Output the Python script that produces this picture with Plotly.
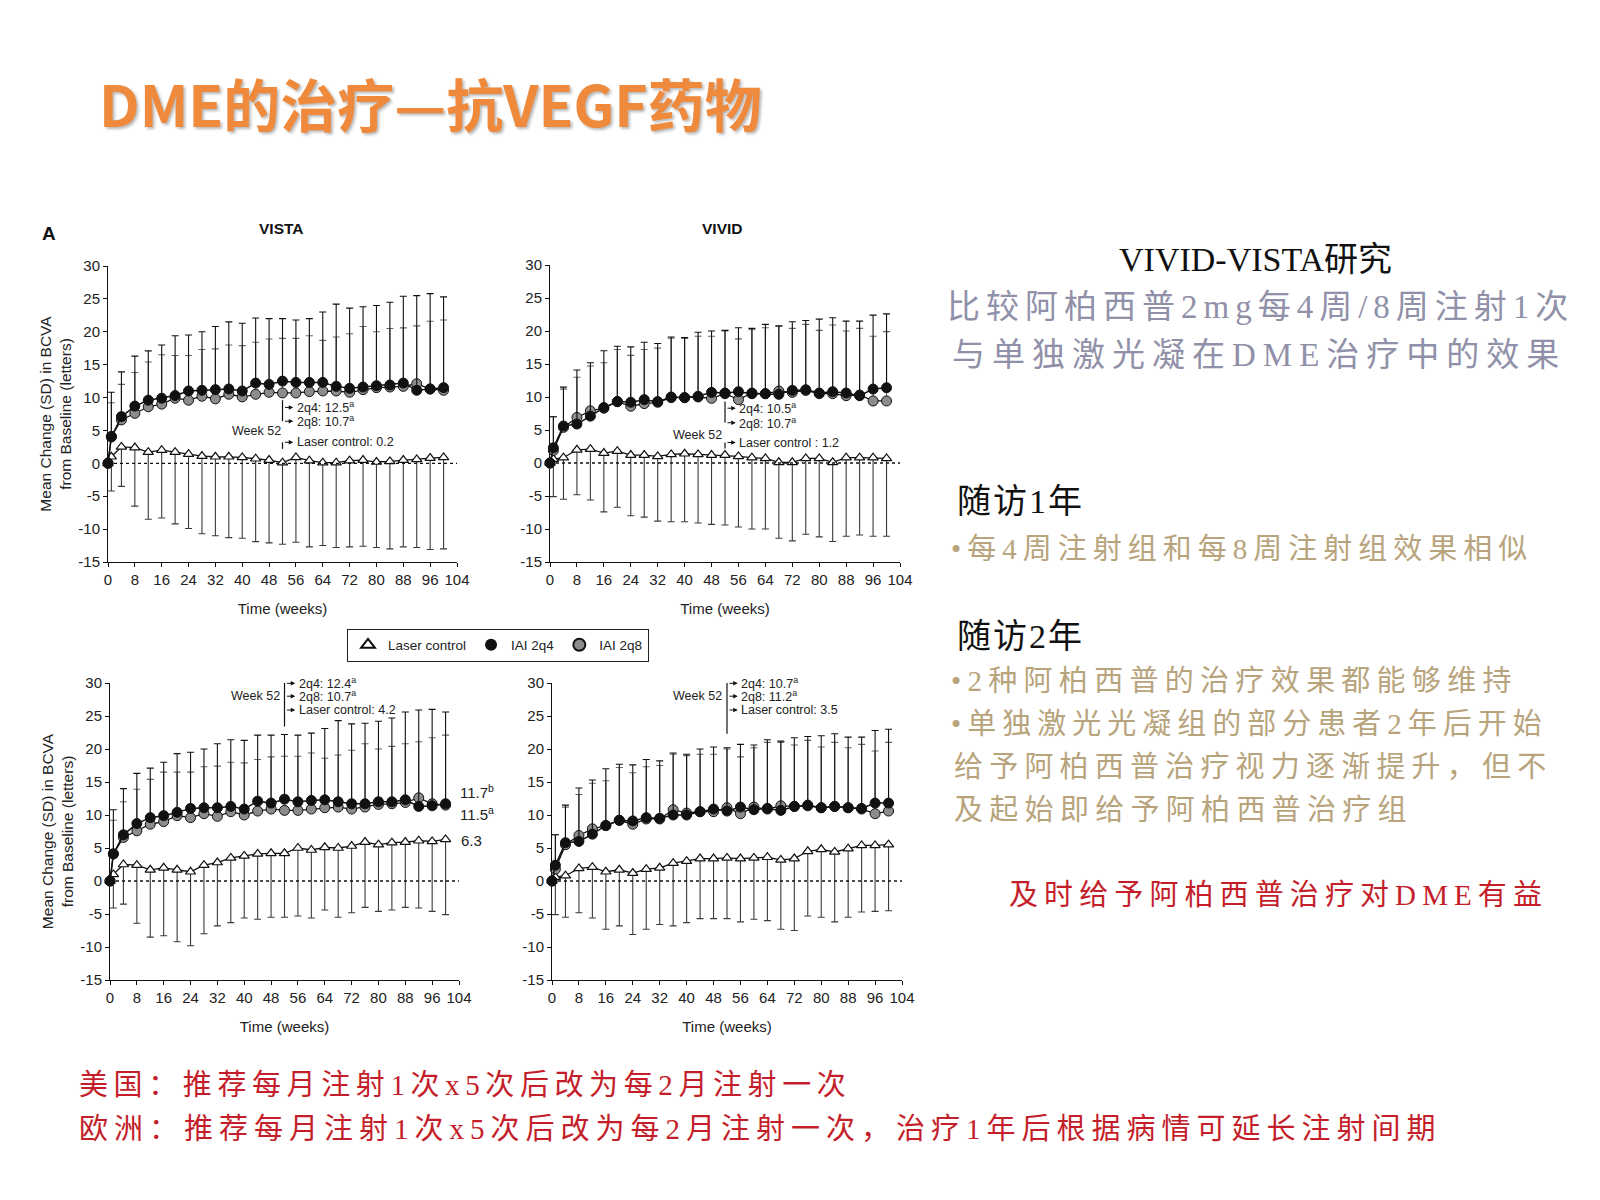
import plotly.graph_objects as go

# ---------------- data ----------------
weeks = [0, 1, 4, 8, 12, 16, 20, 24, 28, 32, 36, 40, 44, 48, 52, 56, 60, 64, 68, 72, 76, 80, 84, 88, 92, 96, 100]
x_ticks = [0, 8, 16, 24, 32, 40, 48, 56, 64, 72, 80, 88, 96, 104]
y_ticks = [-15, -10, -5, 0, 5, 10, 15, 20, 25, 30]

# VISTA, year 1 (top-left)
vista1_2q4 = [0, 4.0, 7.1, 8.7, 9.6, 9.9, 10.3, 11.0, 11.1, 11.2, 11.3, 11.0, 12.2, 12.0, 12.5, 12.3, 12.3, 12.3, 11.7, 11.4, 11.6, 11.8, 11.9, 12.2, 11.1, 11.3, 11.5]
vista1_2q8 = [0, 4.1, 6.6, 7.6, 8.6, 9.0, 9.9, 9.6, 10.2, 9.8, 10.5, 10.1, 10.5, 10.8, 10.7, 10.7, 10.9, 11.0, 11.0, 10.8, 11.2, 11.5, 11.6, 11.7, 12.1, 11.3, 11.1]
vista1_laser = [0, 1.0, 2.5, 2.4, 1.7, 2.0, 1.7, 1.4, 1.1, 1.0, 1.0, 0.9, 0.7, 0.5, 0.1, 0.9, 0.4, 0.1, 0.1, 0.4, 0.5, 0.2, 0.3, 0.5, 0.6, 0.8, 0.9]
vista1_2q4_top = [0, 10.8, 13.9, 16.3, 17.1, 18.0, 19.4, 19.5, 20.0, 20.8, 21.5, 21.3, 22.1, 22.0, 22.0, 21.8, 22.0, 23.0, 24.2, 23.6, 23.8, 24.0, 24.5, 25.4, 25.5, 25.8, 25.3]
vista1_2q8_top = [0, 9.2, 12.0, 13.8, 15.4, 16.5, 16.4, 16.4, 17.3, 17.4, 18.0, 17.9, 18.4, 18.9, 19.0, 19.0, 19.4, 18.7, 19.2, 19.7, 20.8, 20.0, 20.5, 20.6, 20.9, 21.6, 21.8]
vista1_laser_bottom = [0, -4.2, -3.5, -6.5, -8.5, -8.3, -9.2, -9.9, -10.7, -11.0, -11.3, -11.4, -11.9, -12.1, -12.3, -12.0, -12.7, -12.5, -12.8, -12.7, -12.6, -12.8, -13.0, -12.7, -12.8, -13.1, -13.0]

# VIVID, year 1 (top-right)
vivid1_2q4 = [0, 2.3, 5.6, 5.9, 7.1, 8.4, 9.3, 9.2, 9.6, 9.3, 10.0, 9.9, 10.1, 10.7, 10.6, 10.8, 10.5, 10.5, 10.4, 11.0, 11.1, 10.6, 10.8, 10.6, 10.2, 11.2, 11.4]
vivid1_2q8 = [0, 1.9, 5.4, 6.9, 7.9, 8.3, 9.3, 8.6, 9.0, 9.2, 9.9, 9.9, 10.0, 9.8, 10.5, 9.6, 10.6, 10.5, 10.9, 10.7, 11.0, 10.5, 10.5, 10.2, 10.3, 9.4, 9.4]
vivid1_laser = [0, 0.6, 0.8, 2.0, 2.1, 1.5, 1.8, 1.2, 1.2, 1.0, 1.3, 1.4, 1.3, 1.2, 1.2, 1.0, 0.8, 0.7, 0.1, 0.1, 0.7, 0.7, 0.1, 0.8, 0.8, 0.8, 0.7]
vivid1_2q4_top = [0, 7.0, 11.5, 14.1, 15.2, 17.0, 17.7, 17.6, 18.3, 18.1, 19.1, 19.0, 19.8, 20.0, 20.1, 20.5, 20.4, 21.0, 20.8, 21.4, 21.6, 21.8, 22.0, 21.5, 21.5, 22.4, 22.6]
vivid1_2q8_top = [0, 7.0, 11.2, 13.0, 14.7, 15.2, 17.2, 16.3, 17.2, 17.4, 18.9, 18.9, 19.2, 19.2, 20.0, 18.8, 20.2, 20.5, 20.7, 20.4, 21.0, 20.1, 20.9, 20.0, 20.4, 19.2, 19.9]
vivid1_laser_bottom = [0, -5.1, -5.5, -4.8, -5.6, -7.4, -6.7, -8.0, -8.2, -8.8, -8.9, -8.9, -9.1, -9.3, -9.4, -9.7, -10.0, -10.0, -11.4, -11.8, -10.8, -11.2, -11.9, -11.1, -10.9, -11.1, -11.1]

# VISTA, year 2 (bottom-left)
vista2_2q4 = [0, 4.1, 7.0, 8.7, 9.6, 9.9, 10.4, 11.0, 11.1, 11.1, 11.3, 10.9, 12.1, 11.8, 12.4, 12.0, 12.2, 12.3, 12.0, 11.7, 11.7, 12.0, 12.0, 12.3, 11.3, 11.4, 11.7]
vista2_2q8 = [0, 4.1, 6.6, 7.6, 8.6, 9.0, 9.9, 9.6, 10.2, 9.8, 10.5, 10.0, 10.6, 10.9, 10.7, 10.7, 10.9, 11.1, 11.2, 10.9, 11.2, 11.6, 11.7, 11.9, 12.6, 11.7, 11.5]
vista2_laser = [0, 1.0, 2.5, 2.4, 1.7, 2.0, 1.7, 1.4, 2.4, 2.8, 3.5, 3.8, 4.1, 4.2, 4.2, 5.0, 4.7, 5.1, 5.0, 5.3, 5.9, 5.5, 5.8, 5.9, 6.1, 6.0, 6.3]
vista2_2q4_top = [0, 10.8, 14.0, 16.3, 17.1, 18.0, 19.3, 19.5, 20.0, 20.8, 21.4, 21.3, 22.1, 22.1, 22.2, 22.1, 22.4, 23.1, 24.3, 23.8, 23.9, 24.2, 24.7, 25.6, 25.9, 26.0, 25.6]
vista2_2q8_top = [0, 9.2, 12.0, 13.9, 15.4, 16.5, 16.5, 16.5, 17.3, 17.4, 18.0, 17.9, 18.4, 18.8, 18.9, 18.9, 19.4, 18.6, 19.1, 19.8, 20.8, 20.0, 20.4, 20.8, 21.1, 21.7, 22.1]
vista2_laser_bottom = [0, -4.1, -3.5, -6.4, -8.5, -8.3, -9.2, -9.8, -8.0, -6.8, -6.3, -5.6, -5.8, -5.5, -5.5, -5.3, -5.6, -4.4, -5.5, -4.8, -4.0, -4.6, -4.4, -4.0, -4.1, -4.6, -5.1]

# VIVID, year 2 (bottom-right)
vivid2_2q4 = [0, 2.4, 5.8, 6.0, 7.1, 8.4, 9.2, 9.1, 9.6, 9.5, 10.0, 10.0, 10.5, 10.9, 10.6, 11.2, 10.8, 11.0, 10.7, 11.3, 11.4, 11.1, 11.3, 11.1, 11.0, 11.8, 11.8]
vivid2_2q8 = [0, 1.8, 5.5, 6.9, 7.9, 8.4, 9.2, 8.6, 9.4, 9.4, 10.8, 10.3, 10.5, 10.5, 11.1, 10.2, 11.2, 10.9, 11.4, 11.3, 11.5, 11.1, 11.3, 11.1, 10.9, 10.2, 10.6]
vivid2_laser = [0, 0.6, 0.8, 1.9, 2.1, 1.4, 1.7, 1.2, 1.8, 2.0, 2.7, 3.0, 3.4, 3.4, 3.5, 3.4, 3.5, 3.6, 3.2, 3.4, 4.5, 4.8, 4.4, 4.9, 5.4, 5.4, 5.5]
vivid2_2q4_top = [0, 7.0, 11.5, 14.1, 15.3, 17.0, 17.7, 17.6, 18.4, 18.2, 19.4, 19.2, 20.0, 20.3, 20.2, 20.7, 20.6, 21.4, 21.2, 21.7, 21.9, 22.0, 22.3, 21.8, 21.8, 22.8, 23.0]
vivid2_2q8_top = [0, 7.0, 11.2, 13.1, 14.8, 15.2, 17.2, 16.4, 17.3, 17.5, 19.2, 19.0, 19.2, 19.2, 20.0, 18.8, 20.2, 21.0, 21.0, 20.6, 21.3, 20.3, 21.0, 20.2, 20.7, 19.7, 21.0]
vivid2_laser_bottom = [0, -5.1, -5.5, -4.8, -5.6, -7.3, -6.8, -8.1, -7.3, -6.6, -6.8, -6.3, -5.7, -5.7, -5.7, -6.2, -5.8, -6.0, -7.3, -7.5, -5.3, -5.5, -6.2, -5.5, -4.7, -4.6, -4.5]

panels = [
    dict(ax="", q4=vista1_2q4, q8=vista1_2q8, laser=vista1_laser,
         q4_top=vista1_2q4_top, q8_top=vista1_2q8_top, laser_bot=vista1_laser_bottom,
         end_labels=[("11.5<sup>a</sup>", 104.3, 13.6), ("11.1<sup>a</sup>", 104.3, 10.3), ("0.9", 104.3, 1.1)],
         w52_lines=["2q4: 12.5<sup>a</sup>", "2q8: 10.7<sup>a</sup>", "Laser control: 0.2"]),
    dict(ax="2", q4=vivid1_2q4, q8=vivid1_2q8, laser=vivid1_laser,
         q4_top=vivid1_2q4_top, q8_top=vivid1_2q8_top, laser_bot=vivid1_laser_bottom,
         end_labels=[("11.4<sup>a</sup>", 104.5, 11.9), ("9.4<sup>a</sup>", 105.8, 9.0), ("0.7", 104.5, 0.8)],
         w52_lines=["2q4: 10.5<sup>a</sup>", "2q8: 10.7<sup>a</sup>", "Laser control : 1.2"]),
    dict(ax="3", q4=vista2_2q4, q8=vista2_2q8, laser=vista2_laser,
         q4_top=vista2_2q4_top, q8_top=vista2_2q8_top, laser_bot=vista2_laser_bottom,
         end_labels=[("11.7<sup>b</sup>", 103.6, 13.5), ("11.5<sup>a</sup>", 103.6, 10.3), ("6.3", 104.0, 6.1)],
         w52_lines=["2q4: 12.4<sup>a</sup>", "2q8: 10.7<sup>a</sup>", "Laser control: 4.2"]),
    dict(ax="4", q4=vivid2_2q4, q8=vivid2_2q8, laser=vivid2_laser,
         q4_top=vivid2_2q4_top, q8_top=vivid2_2q8_top, laser_bot=vivid2_laser_bottom,
         end_labels=[("11.8<sup>a</sup>", 104.1, 13.2), ("10.6<sup>b</sup>", 104.1, 9.9), ("5.5", 104.6, 5.3)],
         w52_lines=["2q4: 10.7<sup>a</sup>", "2q8: 11.2<sup>a</sup>", "Laser control: 3.5"]),
]

# ---------------- layout geometry ----------------
W, H = 1600, 1200
OFF = 8  # page body margin offset of the figure
def px(x):
    return (x - OFF) / W
def py(y):
    return 1 - (y - OFF) / H

domains = [
    ((108, 457), (266, 562)),
    ((550, 900), (265, 562)),
    ((110, 459), (683, 980)),
    ((552, 902), (683, 980)),
]

SANS = "Liberation Sans, Arial, sans-serif"
fig = go.Figure()

BLACK = "#111111"
GRAY = "#8c8c8c"

for i, p in enumerate(panels):
    a = p["ax"]
    xa, ya = "x" + a, "y" + a
    up_q4 = [t - m for t, m in zip(p["q4_top"], p["q4"])]
    up_q8 = [t - m for t, m in zip(p["q8_top"], p["q8"])]
    dn_l = [m - b for b, m in zip(p["laser_bot"], p["laser"])]
    zeros = [0] * len(weeks)
    fig.add_trace(go.Scatter(
        x=weeks, y=p["laser"], xaxis=xa, yaxis=ya, mode="lines+markers",
        name="Laser control", showlegend=False, cliponaxis=False,
        line=dict(color=BLACK, width=1.3),
        marker=dict(symbol="triangle-up", size=9, color="white", line=dict(color=BLACK, width=1.2)),
        error_y=dict(type="data", symmetric=False, array=zeros, arrayminus=dn_l,
                     color="#3a3a3a", thickness=1.1, width=3.5)))
    fig.add_trace(go.Scatter(
        x=weeks, y=p["q8"], xaxis=xa, yaxis=ya, mode="lines+markers",
        name="IAI 2q8", showlegend=False, cliponaxis=False,
        line=dict(color=BLACK, width=1.3),
        marker=dict(symbol="circle", size=10, color=GRAY, line=dict(color=BLACK, width=1)),
        error_y=dict(type="data", symmetric=False, array=up_q8, arrayminus=zeros,
                     color="#666666", thickness=1.1, width=3.5)))
    fig.add_trace(go.Scatter(
        x=weeks, y=p["q4"], xaxis=xa, yaxis=ya, mode="lines+markers",
        name="IAI 2q4", showlegend=False, cliponaxis=False,
        line=dict(color=BLACK, width=1.5),
        marker=dict(symbol="circle", size=10, color=BLACK, line=dict(color=BLACK, width=1)),
        error_y=dict(type="data", symmetric=False, array=up_q4, arrayminus=zeros,
                     color=BLACK, thickness=1.1, width=3.5)))

    (x0, x1), (y0, y1) = domains[i]
    fig.update_layout(**{
        "xaxis" + a: dict(domain=[px(x0), px(x1)], anchor=ya, range=[0, 104], tickvals=x_ticks,
                          showline=True, linecolor=BLACK, linewidth=1, ticks="outside", ticklen=4,
                          tickcolor=BLACK, showgrid=False, zeroline=False, automargin=False,
                          tickfont=dict(family=SANS, size=15, color="#222"),
                          title=dict(text="Time (weeks)", font=dict(family=SANS, size=15, color="#222"), standoff=16)),
        "yaxis" + a: dict(domain=[py(y1), py(y0)], anchor=xa, range=[-15, 30], tickvals=y_ticks,
                          ticktext=[str(v) for v in y_ticks],
                          showline=True, linecolor=BLACK, linewidth=1, ticks="outside", ticklen=4,
                          tickcolor=BLACK, showgrid=False, zeroline=False, automargin=False,
                          tickfont=dict(family=SANS, size=15, color="#222"),
                          title=dict(text=("Mean Change (SD) in BCVA<br>from Baseline (letters)" if i in (0, 2) else ""),
                                     font=dict(family=SANS, size=15.5, color="#222"), standoff=2)),
    })

    # dotted zero line
    fig.add_shape(type="line", xref=xa, yref=ya, x0=0, x1=106, y0=0, y1=0,
                  line=dict(color=BLACK, width=1.3, dash="dot"))

    # end-of-study labels
    for txt, xx, yy in p["end_labels"]:
        fig.add_annotation(x=xx, y=yy, xref=xa, yref=ya, text=txt, showarrow=False,
                           xanchor="left", yanchor="middle",
                           font=dict(family=SANS, size=15, color="#222"))

    # week-52 call-outs
    def arrow(y, xr=xa, yr=ya):
        fig.add_annotation(x=55.2, y=y, ax=52.3, ay=y, xref=xr, yref=yr, axref=xr, ayref=yr,
                           text="", showarrow=True, arrowhead=2, arrowsize=0.9, arrowwidth=1,
                           arrowcolor=BLACK, standoff=0)
    def label(txt, y, x=55.6, anchor="left", xr=xa, yr=ya):
        fig.add_annotation(x=x, y=y, xref=xr, yref=yr, text=txt, showarrow=False,
                           xanchor=anchor, yanchor="middle",
                           font=dict(family=SANS, size=12.5, color="#222"))
    if i in (0, 1):
        ys = (8.5, 6.4, 3.2) if i == 0 else (8.3, 6.1, 3.1)
        ytop = 9.6 if i == 0 else 9.3
        fig.add_shape(type="line", xref=xa, yref=ya, x0=52, x1=52, y0=ys[1], y1=ytop,
                      line=dict(color=BLACK, width=1.2))
        fig.add_shape(type="line", xref=xa, yref=ya, x0=52, x1=52, y0=2.2, y1=ys[2],
                      line=dict(color=BLACK, width=1.2))
        for t, yy in zip(p["w52_lines"], ys):
            arrow(yy)
            label(t, yy)
        label("Week 52", 4.9 if i == 0 else 4.3, x=44.3 if i == 0 else 43.8, anchor="center")
    else:
        ys = (29.95, 28.0, 25.9)
        ybot = 23.4 if i == 2 else 22.3
        fig.add_shape(type="line", xref=xa, yref=ya, x0=52, x1=52, y0=ybot, y1=30.3,
                      line=dict(color=BLACK, width=1.2))
        for t, yy in zip(p["w52_lines"], ys):
            arrow(yy)
            label(t, yy)
        label("Week 52", 28.0, x=51.2, anchor="right")

# legend (marker-only entries)
fig.add_trace(go.Scatter(x=[None], y=[None], mode="markers", name="Laser control",
                         marker=dict(symbol="triangle-up", size=10, color="white", line=dict(color=BLACK, width=1.2))))
fig.add_trace(go.Scatter(x=[None], y=[None], mode="markers", name="IAI 2q4",
                         marker=dict(symbol="circle", size=10, color=BLACK)))
fig.add_trace(go.Scatter(x=[None], y=[None], mode="markers", name="IAI 2q8",
                         marker=dict(symbol="circle", size=10, color=GRAY, line=dict(color=BLACK, width=1))))

fig.update_layout(
    width=W, height=H, margin=dict(l=0, r=0, t=0, b=0),
    paper_bgcolor="white", plot_bgcolor="white",
    showlegend=True,
    legend=dict(orientation="h", x=px(347), y=py(645), xanchor="left", yanchor="middle",
                bgcolor="white", bordercolor="#222", borderwidth=1,
                font=dict(family=SANS, size=13.5, color="#222"),
                itemsizing="constant", tracegroupgap=0),
)

def text_px(x, y, txt, size, color, family=SANS, anchor="left", bold=False, shadow=None):
    f = dict(family=family, size=size, color=color)
    if bold:
        f["weight"] = "bold"
    if shadow:
        f["shadow"] = shadow
    fig.add_annotation(x=px(x), y=py(y), xref="paper", yref="paper", text=txt,
                       showarrow=False, xanchor=anchor, yanchor="middle", font=f)

text_px(49, 233, "A", 19, BLACK, bold=True, anchor="center")
text_px(281, 228, "VISTA", 15.5, BLACK, bold=True, anchor="center")
text_px(722, 228, "VIVID", 15.5, BLACK, bold=True, anchor="center")

# slide title
text_px(97, 102, "DME的治疗—抗VEGF药物", 57, "#EF8A3C",
        family="Noto Sans CJK SC, sans-serif", bold=True,
        shadow="2px 2px 3px rgba(0,0,0,0.28)")

SERIF = "Liberation Serif, Noto Sans CJK SC, serif"
def spaced(t, s):
    return '<span style="letter-spacing:%spx">%s</span>' % (s, t)

PURPLE = "#9090A8"
GOLD = "#B8A47C"
RED = "#C41E2A"

text_px(1255, 259, "VIVID-VISTA研究", 34, BLACK, family=SERIF, anchor="center")
text_px(945, 307, spaced("比较阿柏西普2mg每4周/8周注射1次", 6), 33, PURPLE, family=SERIF)
text_px(950, 355, spaced("与单独激光凝在DME治疗中的效果", 7), 33, PURPLE, family=SERIF)

text_px(955, 502, spaced("随访1年", 2), 34, BLACK, family=SERIF)
text_px(949, 549, spaced("•每4周注射组和每8周注射组效果相似", 6), 29, GOLD, family=SERIF)

text_px(955, 636, spaced("随访2年", 2), 34, BLACK, family=SERIF)
text_px(949, 681, spaced("•2种阿柏西普的治疗效果都能够维持", 6.3), 29, GOLD, family=SERIF)
text_px(949, 724, spaced("•单独激光光凝组的部分患者2年后开始", 6), 29, GOLD, family=SERIF)
text_px(952, 767, spaced("给予阿柏西普治疗视力逐渐提升，但不", 6.2), 29, GOLD, family=SERIF)
text_px(952, 810, spaced("及起始即给予阿柏西普治疗组", 6.3), 29, GOLD, family=SERIF)

text_px(1007, 895, spaced("及时给予阿柏西普治疗对DME有益", 6.1), 29, RED, family=SERIF)

text_px(77, 1085, spaced("美国：推荐每月注射1次x5次后改为每2月注射一次", 5.6), 29, RED, family=SERIF)
text_px(77, 1129, spaced("欧洲：推荐每月注射1次x5次后改为每2月注射一次，治疗1年后根据病情可延长注射间期", 6.0), 29, RED, family=SERIF)

fig.write_html("out.html")
